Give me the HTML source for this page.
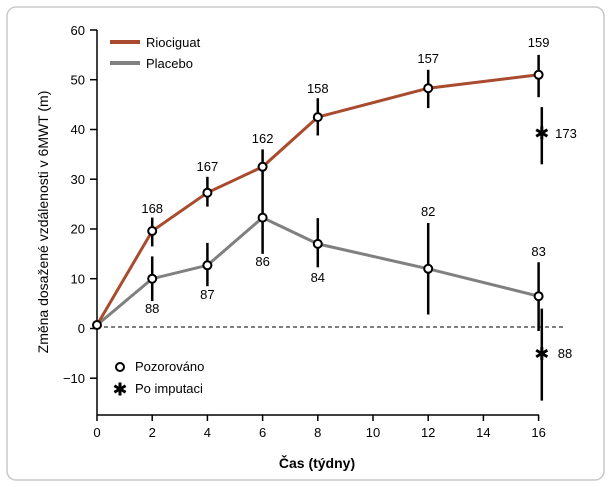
<!DOCTYPE html>
<html><head><meta charset="utf-8"><style>
html,body{margin:0;padding:0;background:#fff}
svg{display:block;font-family:"Liberation Sans",sans-serif}
</style></head><body>
<svg width="609" height="487" viewBox="0 0 609 487">
<defs>
<g id="ast" stroke="#000" stroke-width="3" stroke-linecap="butt">
<line x1="0" y1="-6.5" x2="0" y2="6.5"/>
<line x1="-5.6" y1="-3.25" x2="5.6" y2="3.25"/>
<line x1="-5.6" y1="3.25" x2="5.6" y2="-3.25"/>
</g>
</defs>
<rect x="7" y="7" width="597" height="473" rx="9" fill="#fff" stroke="#c8c8c8" stroke-width="1.5"/>
<g stroke="#000" stroke-width="1.5" fill="none">
<line x1="97" y1="30" x2="97" y2="415"/>
<line x1="97" y1="415" x2="539" y2="415"/>
<line x1="90" y1="30" x2="97" y2="30"/><line x1="90" y1="79.7" x2="97" y2="79.7"/>
<line x1="90" y1="129.5" x2="97" y2="129.5"/><line x1="90" y1="179.2" x2="97" y2="179.2"/>
<line x1="90" y1="229" x2="97" y2="229"/><line x1="90" y1="278.7" x2="97" y2="278.7"/>
<line x1="90" y1="328.5" x2="97" y2="328.5"/><line x1="90" y1="378.2" x2="97" y2="378.2"/>
<line x1="97" y1="415" x2="97" y2="421"/><line x1="152.2" y1="415" x2="152.2" y2="421"/>
<line x1="207.4" y1="415" x2="207.4" y2="421"/><line x1="262.6" y1="415" x2="262.6" y2="421"/>
<line x1="317.8" y1="415" x2="317.8" y2="421"/><line x1="373" y1="415" x2="373" y2="421"/>
<line x1="428.2" y1="415" x2="428.2" y2="421"/><line x1="483.4" y1="415" x2="483.4" y2="421"/>
<line x1="538.6" y1="415" x2="538.6" y2="421"/>
</g>
<line x1="97" y1="327" x2="566" y2="327" stroke="#000" stroke-width="1" stroke-dasharray="4,3"/>
<g font-size="13" fill="#000" text-anchor="end">
<text x="85" y="35">60</text><text x="85" y="84.5">50</text><text x="85" y="134">40</text>
<text x="85" y="184">30</text><text x="85" y="233.5">20</text><text x="85" y="283.5">10</text>
<text x="85" y="333">0</text><text x="85" y="383">−10</text>
</g>
<g font-size="13" fill="#000" text-anchor="middle">
<text x="97" y="437">0</text><text x="152.2" y="437">2</text><text x="207.4" y="437">4</text>
<text x="262.6" y="437">6</text><text x="317.8" y="437">8</text><text x="373" y="437">10</text>
<text x="428.2" y="437">12</text><text x="483.4" y="437">14</text><text x="538.6" y="437">16</text>
<text x="317" y="468" font-size="14" font-weight="bold">Čas (týdny)</text>
<text transform="translate(48,222) rotate(-90)" font-size="14">Změna dosažené vzdálenosti v 6MWT (m)</text>
</g>
<g stroke="#000" stroke-width="2.5">
<line x1="152.2" y1="246.4" x2="152.2" y2="217.6"/><line x1="207.4" y1="206.6" x2="207.4" y2="176.8"/>
<line x1="262.6" y1="253.9" x2="262.6" y2="149.4"/><line x1="317.8" y1="135.5" x2="317.8" y2="98.2"/>
<line x1="428.2" y1="108.1" x2="428.2" y2="69.8"/><line x1="538.6" y1="97.2" x2="538.6" y2="54.9"/>
<line x1="541.8" y1="164.3" x2="541.8" y2="107.1"/>
<line x1="152.2" y1="301.1" x2="152.2" y2="256.4"/><line x1="207.4" y1="286.2" x2="207.4" y2="242.9"/>
<line x1="317.8" y1="267.3" x2="317.8" y2="218.1"/><line x1="428.2" y1="314.5" x2="428.2" y2="223"/>
<line x1="538.6" y1="331" x2="538.6" y2="262.3"/><line x1="541.8" y1="400.6" x2="541.8" y2="308.6"/>
</g>
<polyline points="97,325 152.2,278.7 207.4,265.3 262.6,217.6 317.8,243.9 428.2,268.8 538.6,296.2" fill="none" stroke="#808080" stroke-width="3"/>
<polyline points="97,325 152.2,231 207.4,192.7 262.6,166.8 317.8,117.1 428.2,88.2 538.6,74.8" fill="none" stroke="#a84b2e" stroke-width="3"/>
<g fill="#fff" stroke="#000" stroke-width="2">
<circle cx="97" cy="325" r="4"/>
<circle cx="152.2" cy="231" r="4"/><circle cx="207.4" cy="192.7" r="4"/><circle cx="262.6" cy="166.8" r="4"/>
<circle cx="317.8" cy="117.1" r="4"/><circle cx="428.2" cy="88.2" r="4"/><circle cx="538.6" cy="74.8" r="4"/>
<circle cx="152.2" cy="278.7" r="4"/><circle cx="207.4" cy="265.3" r="4"/><circle cx="262.6" cy="217.6" r="4"/>
<circle cx="317.8" cy="243.9" r="4"/><circle cx="428.2" cy="268.8" r="4"/><circle cx="538.6" cy="296.2" r="4"/>
<circle cx="120" cy="367" r="4"/>
</g>
<use href="#ast" x="541.8" y="133"/>
<use href="#ast" x="541.8" y="353.5"/>
<use href="#ast" x="120" y="389"/>
<g font-size="13" fill="#000" text-anchor="middle">
<text x="152.2" y="213">168</text><text x="207.4" y="171">167</text><text x="262.6" y="143">162</text>
<text x="317.8" y="93">158</text><text x="428.2" y="63">157</text><text x="538.6" y="47">159</text>
<text x="566" y="138">173</text>
<text x="152.2" y="313">88</text><text x="207.4" y="299">87</text><text x="262.6" y="266">86</text>
<text x="317.8" y="282">84</text><text x="428.2" y="216">82</text><text x="538.6" y="256">83</text>
<text x="565" y="358">88</text>
</g>
<line x1="110" y1="42" x2="140" y2="42" stroke="#a84b2e" stroke-width="4"/>
<line x1="110" y1="63" x2="140" y2="63" stroke="#808080" stroke-width="4"/>
<g font-size="13" fill="#000">
<text x="146" y="47">Riociguat</text><text x="146" y="68">Placebo</text>
<text x="135" y="371">Pozorováno</text><text x="135" y="393">Po imputaci</text>
</g>
</svg>
</body></html>
